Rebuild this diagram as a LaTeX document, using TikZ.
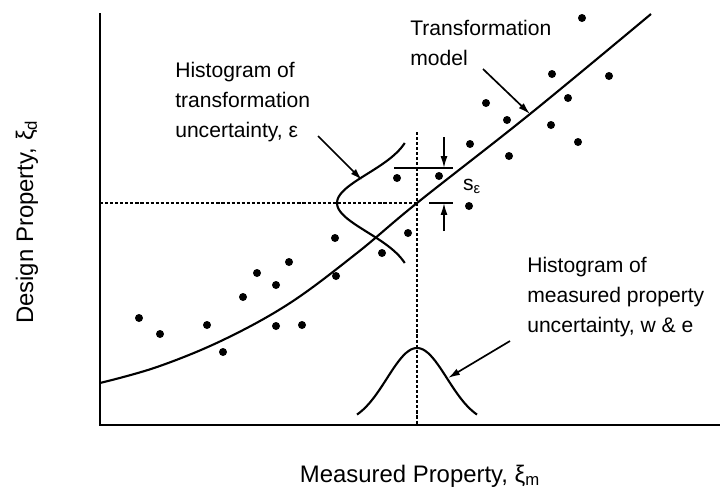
\documentclass[tikz,border=0pt]{standalone}
\usepackage{fontspec}
\setmainfont{Liberation Sans}
\usetikzlibrary{arrows.meta}
\tikzset{
  axis/.style={line width=1.9pt},
  curve/.style={line width=1.5pt},
  guide/.style={line width=1.4pt, dash pattern=on 2.2pt off 1.4pt},
  dot/.style={fill=black},
  callout/.style={line width=1.2pt, -{Latex[length=8.5pt,width=5pt]}},
  note/.style={align=left, anchor=north west, inner sep=0pt, font=\fontsize{15}{21.3}\selectfont},
  axislabel/.style={inner sep=0pt, font=\fontsize{17}{20}\selectfont}
}
\begin{document}
\begin{tikzpicture}[x=0.025cm, y=-0.025cm]
	    \useasboundingbox (0,0) rectangle (724,501);
	    
	    \draw[axis] (100,13) -- (100,425) -- (720,425);
	    \draw[guide] (100,203) -- (417,203);
	    \draw[guide] (417,132) -- (417,425);
	    
	    \draw[curve] plot[smooth, tension=0.6] coordinates {(100,383) (157,367) (223,340) (290,303) (357,253) (417,203) (530,114) (651,14)};
	    \draw[curve] plot[domain=-60:60, samples=50, smooth] ({414-77*exp(-\x*\x/1700)}, {203+\x});
	    \draw[curve] plot[domain=-60:60, samples=50, smooth] ({417+\x}, {425-77*exp(-\x*\x/1800)});
	    
	    \fill[dot] (139,318) circle[radius=4];\fill[dot] (160,334) circle[radius=4];
	    \fill[dot] (207,325) circle[radius=4];\fill[dot] (223,352) circle[radius=4];
	    \fill[dot] (243,297) circle[radius=4];\fill[dot] (257,273) circle[radius=4];
	    \fill[dot] (276,285) circle[radius=4];\fill[dot] (289,262) circle[radius=4];
	    \fill[dot] (276,326) circle[radius=4];\fill[dot] (302,325) circle[radius=4];
	    \fill[dot] (335,238) circle[radius=4];\fill[dot] (336,276) circle[radius=4];
	    \fill[dot] (382,253) circle[radius=4];\fill[dot] (408,233) circle[radius=4];
	    \fill[dot] (397,178) circle[radius=4];\fill[dot] (439,176) circle[radius=4];
	    \fill[dot] (470,144) circle[radius=4];\fill[dot] (469,206) circle[radius=4];
	    \fill[dot] (486,103) circle[radius=4];\fill[dot] (507,120) circle[radius=4];
	    \fill[dot] (509,156) circle[radius=4];\fill[dot] (551,125) circle[radius=4];
	    \fill[dot] (552,74) circle[radius=4];\fill[dot] (568,98) circle[radius=4];
	    \fill[dot] (578,142) circle[radius=4];\fill[dot] (582,18) circle[radius=4];
	    \fill[dot] (609,76) circle[radius=4];
	    
	    % s_epsilon marks
	    \coordinate (sepstop) at (444,168);
	    \coordinate (sepsbot) at (444,203);
	    \draw[curve] (394,168) -- (453,168);\draw[curve] (429,203) -- (453,203);
	    \draw[callout] (444,137) -- (sepstop);
	    \draw[callout] (444,231) -- (sepsbot);
	    \node (seps) at (472,186) {\fontsize{15}{18}\selectfont s\textsubscript{ε}};
	    
	    \node[note] (histeps) at (175,62) {Histogram of\\transformation\\uncertainty, ε};
	    \node[note] (model) at (410,20) {Transformation\\model};
	    \node[note] (histm) at (527,257) {Histogram of\\measured property\\uncertainty, w \& e};
	    
	    \coordinate (epstail) at (318,136);\coordinate (epshead) at (362,180);
	    \coordinate (modeltail) at (483,69);\coordinate (modelhead) at (530,114);
	    \coordinate (mtail) at (510,341);\coordinate (mhead) at (448,378);
	    \draw[callout] (epstail) -- (epshead);
	    \draw[callout] (modeltail) -- (modelhead);
	    \draw[callout] (mtail) -- (mhead);
	    
	    \node[axislabel] (xlab) at (420,476) {Measured Property, ξ\textsubscript{m}};
	    \node[axislabel, rotate=90] (ylab) at (27,222) {Design Property, ξ\textsubscript{d}};
    \end{tikzpicture}
\end{document}
